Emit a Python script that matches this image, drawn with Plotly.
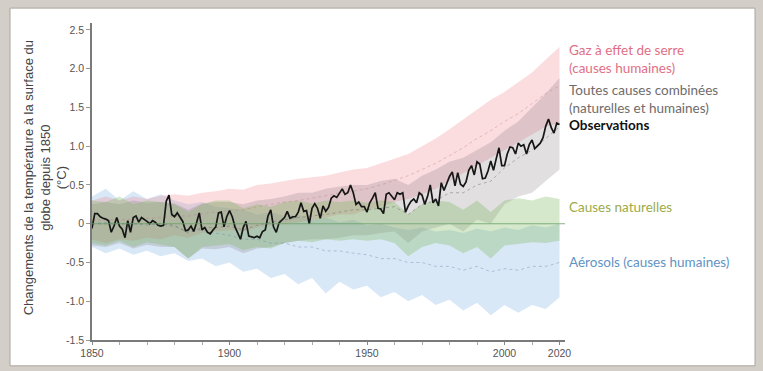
import plotly.graph_objects as go

# ---- Observed annual global surface temperature change since 1850 (°C) ----
obs_years = list(range(1850, 2021))
obs_values = [
    -0.06, 0.13, 0.13, 0.09, 0.07, 0.06, 0.04, -0.11, -0.03, 0.08,
    -0.03, -0.07, -0.18, 0.04, -0.11, 0.08, 0.10, 0.02, 0.08, 0.06,
    0.03, 0.00, 0.04, 0.02, -0.02, -0.03, -0.02, 0.29, 0.37, 0.12,
    0.09, 0.14, 0.09, 0.03, -0.09, -0.08, -0.03, -0.10, 0.01, 0.14,
    -0.08, -0.05, -0.11, -0.13, -0.08, -0.04, 0.14, 0.15, -0.04, 0.09,
    0.17, 0.09, -0.04, -0.13, -0.20, -0.05, 0.03, -0.16, -0.17, -0.18,
    -0.16, -0.18, -0.10, -0.08, 0.10, 0.18, -0.04, -0.11, 0.01, 0.05,
    0.08, 0.16, 0.07, 0.09, 0.09, 0.15, 0.27, 0.16, 0.17, 0.00,
    0.20, 0.26, 0.20, 0.07, 0.23, 0.16, 0.21, 0.33, 0.36, 0.34,
    0.40, 0.45, 0.38, 0.40, 0.50, 0.40, 0.25, 0.28, 0.22, 0.22,
    0.15, 0.27, 0.33, 0.40, 0.20, 0.19, 0.13, 0.38, 0.40, 0.36,
    0.31, 0.40, 0.38, 0.40, 0.15, 0.23, 0.29, 0.32, 0.27, 0.40,
    0.37, 0.25, 0.35, 0.50, 0.27, 0.32, 0.23, 0.53, 0.43, 0.52,
    0.61, 0.67, 0.49, 0.66, 0.51, 0.48, 0.54, 0.69, 0.75, 0.63,
    0.80, 0.77, 0.58, 0.59, 0.68, 0.81, 0.69, 0.84, 0.98, 0.75,
    0.75, 0.90, 0.99, 0.98, 0.90, 1.04, 1.00, 1.02, 0.90, 1.02,
    1.08, 0.97, 1.01, 1.04, 1.11, 1.26, 1.35, 1.24, 1.17, 1.30,
    1.28,
]

# ---- Simulated ranges (5-year steps) ----
sim_years = list(range(1850, 2021, 5))

# Natural causes only
nat_lo = [-0.25, -0.28, -0.22, -0.30, -0.24, -0.27, -0.30, -0.45, -0.30, -0.28,
          -0.26, -0.34, -0.30, -0.32, -0.25, -0.22, -0.24, -0.20, -0.22, -0.20,
          -0.22, -0.20, -0.25, -0.42, -0.30, -0.25, -0.28, -0.38, -0.30, -0.45,
          -0.28, -0.26, -0.24, -0.25, -0.22]
nat_hi = [0.30, 0.28, 0.35, 0.25, 0.30, 0.28, 0.25, 0.15, 0.25, 0.30,
          0.30, 0.20, 0.25, 0.22, 0.28, 0.30, 0.26, 0.30, 0.28, 0.30,
          0.27, 0.30, 0.28, 0.12, 0.25, 0.30, 0.28, 0.18, 0.30, 0.15,
          0.30, 0.33, 0.30, 0.35, 0.32]

# Aerosols (human causes)
aer_lo = [-0.30, -0.38, -0.32, -0.40, -0.35, -0.42, -0.38, -0.48, -0.45, -0.55,
          -0.50, -0.62, -0.58, -0.70, -0.65, -0.78, -0.70, -0.90, -0.75, -0.85,
          -0.80, -0.95, -0.88, -1.00, -0.92, -1.05, -0.98, -1.12, -1.02, -1.18,
          -1.05, -1.15, -1.05, -1.10, -0.95]
aer_hi = [0.35, 0.45, 0.30, 0.42, 0.32, 0.38, 0.30, 0.25, 0.28, 0.22,
          0.20, 0.18, 0.12, 0.15, 0.10, 0.12, 0.05, 0.08, 0.02, 0.05,
          -0.02, 0.00, -0.05, -0.08, -0.05, -0.10, -0.08, -0.12, -0.06, -0.10,
          -0.05, -0.08, -0.02, -0.05, 0.00]
aer_mean = [0.00, 0.02, 0.00, 0.00, -0.02, 0.00, -0.04, -0.10, -0.08, -0.12,
            -0.15, -0.20, -0.20, -0.25, -0.25, -0.30, -0.30, -0.35, -0.35, -0.38,
            -0.40, -0.45, -0.45, -0.50, -0.50, -0.55, -0.55, -0.60, -0.55, -0.62,
            -0.58, -0.60, -0.55, -0.55, -0.50]

# Greenhouse gases (human causes)
ghg_lo = [-0.20, -0.25, -0.20, -0.22, -0.18, -0.20, -0.15, -0.18, -0.12, -0.10,
          -0.08, -0.10, -0.05, -0.02, 0.00, 0.02, 0.05, 0.08, 0.12, 0.12,
          0.18, 0.22, 0.28, 0.32, 0.38, 0.45, 0.55, 0.65, 0.75, 0.85,
          0.95, 1.05, 1.15, 1.25, 1.30]
ghg_hi = [0.30, 0.35, 0.30, 0.35, 0.32, 0.36, 0.38, 0.36, 0.40, 0.42,
          0.45, 0.44, 0.50, 0.52, 0.55, 0.58, 0.60, 0.62, 0.66, 0.70,
          0.72, 0.78, 0.85, 0.90, 1.00, 1.10, 1.22, 1.35, 1.48, 1.60,
          1.70, 1.82, 1.95, 2.12, 2.28]
ghg_mean = [0.05, 0.05, 0.05, 0.06, 0.07, 0.08, 0.10, 0.10, 0.13, 0.15,
            0.17, 0.18, 0.22, 0.25, 0.28, 0.30, 0.33, 0.36, 0.40, 0.42,
            0.45, 0.50, 0.56, 0.62, 0.70, 0.78, 0.88, 0.98, 1.10, 1.20,
            1.32, 1.42, 1.55, 1.68, 1.78]

# All causes combined (natural and human)
all_lo = [-0.28, -0.30, -0.25, -0.32, -0.27, -0.30, -0.30, -0.45, -0.32, -0.33,
          -0.30, -0.38, -0.32, -0.30, -0.25, -0.22, -0.20, -0.20, -0.18, -0.15,
          -0.15, -0.12, -0.10, -0.25, -0.10, -0.05, 0.00, -0.10, 0.05, 0.00,
          0.25, 0.35, 0.40, 0.55, 0.70]
all_hi = [0.25, 0.28, 0.25, 0.30, 0.27, 0.28, 0.26, 0.18, 0.26, 0.28,
          0.28, 0.25, 0.30, 0.32, 0.35, 0.40, 0.40, 0.45, 0.48, 0.50,
          0.50, 0.55, 0.58, 0.50, 0.62, 0.70, 0.80, 0.85, 0.95, 1.05,
          1.20, 1.32, 1.50, 1.68, 1.88]
all_mean = [0.00, 0.00, 0.00, 0.00, 0.00, 0.00, -0.02, -0.12, -0.05, -0.05,
            -0.03, -0.08, -0.02, 0.02, 0.05, 0.08, 0.10, 0.12, 0.15, 0.18,
            0.18, 0.20, 0.22, 0.12, 0.25, 0.30, 0.40, 0.40, 0.50, 0.55,
            0.72, 0.85, 0.95, 1.10, 1.25]

# Axis ticks
x_tick_vals = [1850, 1900, 1950, 2000, 2020]
y_tick_vals = [-1.5, -1.0, -0.5, 0, 0.5, 1.0, 1.5, 2.0, 2.5]
y_tick_text = ["-1.5", "-1.0", "-0.5", "0", "0.5", "1.0", "1.5", "2.0", "2.5"]

W, H = 763, 371
L, R, T, B = 92, 198, 23, 29
PW, PH = W - L - R, H - T - B

fig = go.Figure()


def band(lo, hi, fill):
    fig.add_trace(go.Scatter(x=sim_years, y=lo, mode="lines",
                             line=dict(width=0, color=fill),
                             hoverinfo="skip", showlegend=False))
    fig.add_trace(go.Scatter(x=sim_years, y=hi, mode="lines",
                             line=dict(width=0, color=fill), fill="tonexty",
                             fillcolor=fill, hoverinfo="skip", showlegend=False))


band(aer_lo, aer_hi, "rgba(120,172,222,0.28)")
band(ghg_lo, ghg_hi, "rgba(240,128,140,0.27)")
band(all_lo, all_hi, "rgba(120,108,116,0.22)")
band(nat_lo, nat_hi, "rgba(125,182,92,0.32)")

# Ensemble means (dotted)
for vals, col in [(aer_mean, "rgba(100,130,170,0.4)"),
                  (ghg_mean, "rgba(190,120,128,0.4)"),
                  (all_mean, "rgba(90,90,90,0.4)")]:
    fig.add_trace(go.Scatter(x=sim_years, y=vals, mode="lines",
                             line=dict(color=col, width=1, dash="dot"),
                             hoverinfo="skip", showlegend=False))

# Observations
fig.add_trace(go.Scatter(x=obs_years, y=obs_values, mode="lines",
                         line=dict(color="#161616", width=1.7),
                         showlegend=False))

# Zero reference line
fig.add_shape(type="line", xref="x domain", yref="y", x0=0, x1=1, y0=0, y1=0,
              line=dict(color="rgba(105,160,105,0.8)", width=1.2), layer="above")

# White card on a stone-coloured frame
fig.add_shape(type="rect", xref="paper", yref="paper",
              x0=(10 - L) / PW, x1=(755 - L) / PW,
              y0=(H - B - 368) / PH, y1=(H - B - 8) / PH,
              fillcolor="white", line=dict(color="#aaa59e", width=1), layer="below")

lab_font = "Lato, 'Open Sans', sans-serif"
labels = [
    ("Gaz à effet de serre<br>(causes humaines)", 2.12, "#df6f85"),
    ("Toutes causes combinées<br>(naturelles et humaines)", 1.61, "#6f6b6b"),
    ("<b>Observations</b>", 1.27, "#111111"),
    ("Causes naturelles", 0.22, "#9cab48"),
    ("Aérosols (causes humaines)", -0.49, "#5f93c4"),
]
for txt, yv, col in labels:
    fig.add_annotation(x=1.004, xref="paper", y=yv, yref="y", text=txt,
                       showarrow=False, xanchor="left", yanchor="middle",
                       align="left", font=dict(family=lab_font, size=13.5, color=col))

# Y-axis title
fig.add_annotation(x=(45 - L) / PW, xref="paper", y=0.51, yref="paper",
                   text="Changements de la température à la surface du<br>globe depuis 1850<br>(°C)",
                   textangle=-90, showarrow=False, xanchor="center", yanchor="middle",
                   align="center",
                   font=dict(family="Liberation Sans, Arial, sans-serif", size=13, color="#444"))

fig.update_xaxes(range=[1850, 2022], tickvals=x_tick_vals, ticks="outside",
                 ticklen=3, tickcolor="#888", showline=True, linecolor="#7a7a7a",
                 linewidth=1.5, showgrid=False, zeroline=False,
                 tickfont=dict(family="Liberation Sans, Arial, sans-serif", size=10.5, color="#555"),
                 minor=dict(dtick=10, tick0=1850, ticks="outside", ticklen=3,
                            tickcolor="#aaa", showgrid=False))
fig.update_yaxes(range=[-1.5, 2.59], tickvals=y_tick_vals, ticktext=y_tick_text,
                 ticks="outside", ticklen=4, tickcolor="#999", showline=True,
                 linecolor="#7a7a7a", linewidth=1.5, showgrid=False, zeroline=False,
                 tickfont=dict(family="Liberation Sans, Arial, sans-serif", size=10.5, color="#555"))

fig.update_layout(width=W, height=H, margin=dict(l=L, r=R, t=T, b=B),
                  paper_bgcolor="#d3cec7", plot_bgcolor="white", showlegend=False)

fig.write_html("out.html")
